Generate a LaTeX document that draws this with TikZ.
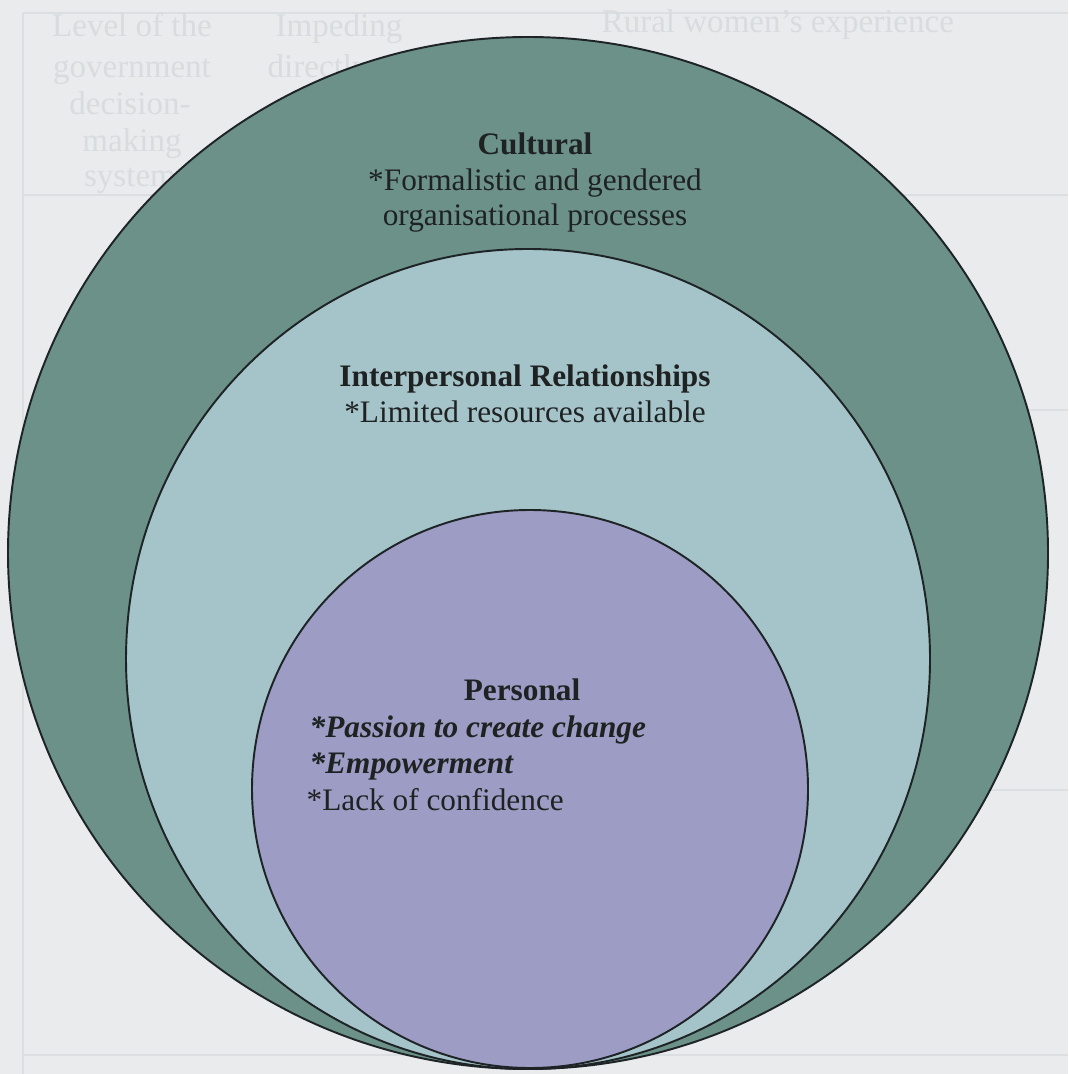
\documentclass[tikz,border=0pt]{standalone}
\usepackage{fontspec}
\setmainfont{Liberation Serif}
\definecolor{paper}{HTML}{E9EBED}
\definecolor{ghosttext}{HTML}{D9DCDF}
\definecolor{ghostrule}{HTML}{DCDFE2}
\definecolor{cultural}{HTML}{6B9189}
\definecolor{interpers}{HTML}{A5C4C9}
\definecolor{personal}{HTML}{9C9CC4}
\definecolor{ringline}{HTML}{1E2426}
\definecolor{labeltext}{HTML}{1F2222}
\begin{document}
\begin{tikzpicture}[x=0.1mm,y=-0.1mm,
  ring/.style={draw=ringline, line width=0.55pt},
  lbl/.style={text=labeltext, font=\fontsize{8.9}{10.4}\selectfont, inner sep=0pt},
  ghost/.style={text=ghosttext, font=\fontsize{9.4}{11}\selectfont, inner sep=0pt, anchor=base},
  rule/.style={draw=ghostrule, line width=0.6pt}]
  % page
  \fill[paper] (0,0) rectangle (1068,1074);
  \useasboundingbox (0,0) rectangle (1068,1074);

  % faint table underneath
  \draw[rule] (23,13) -- (1068,13);
  \draw[rule] (23,13) -- (23,1074);
  \draw[rule] (23,195) -- (1068,195);
  \draw[rule] (23,1055) -- (1068,1055);
  \draw[rule] (900,410) -- (1068,410);
  \draw[rule] (900,790) -- (1068,790);
  \node[ghost] (g1) at (132,37) {Level of the};
  \node[ghost] (g2) at (132,78) {government};
  \node[ghost] (g3) at (130,115) {decision-};
  \node[ghost] (g4) at (132,152) {making};
  \node[ghost] (g5) at (130,187) {system};
  \node[ghost, anchor=base west] (g6) at (275,37) {Impeding};
  \node[ghost, anchor=base west] (g7) at (267,78) {directly};
  \node[ghost, anchor=base west] (g8) at (601,33) {Rural women's experience};

  % nested spheres of influence
  \draw[ring, fill=cultural]  (528,553) ellipse [x radius=52mm,   y radius=51.6mm];
  \draw[ring, fill=interpers] (528,659) ellipse [x radius=40.2mm, y radius=41mm];
  \draw[ring, fill=personal]  (530,789) ellipse [x radius=27.8mm, y radius=27.9mm];

  % labels
  \node[lbl, anchor=base] (cult)  at (535,155) {\textbf{Cultural}};
  \node[lbl, anchor=base] (cult1) at (535,191) {*Formalistic and gendered};
  \node[lbl, anchor=base] (cult2) at (535,226) {organisational processes};

  \node[lbl, anchor=base] (inter)  at (525,387) {\textbf{Interpersonal Relationships}};
  \node[lbl, anchor=base] (inter1) at (525,423) {*Limited resources available};

  \node[lbl, anchor=base] (pers) at (522,700) {\textbf{Personal}};
  \node[lbl, anchor=base west] (pers1) at (309,737) {\textbf{\textit{*Passion to create change}}};
  \node[lbl, anchor=base west] (pers2) at (309,773) {\textbf{\textit{*Empowerment}}};
  \node[lbl, anchor=base west] (pers3) at (306,810) {*Lack of confidence};
\end{tikzpicture}
\end{document}
